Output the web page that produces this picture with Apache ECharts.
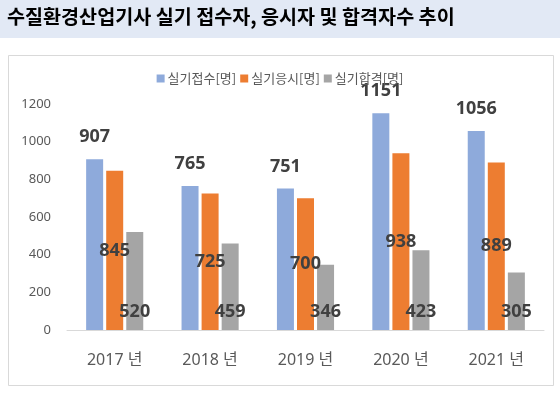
<!DOCTYPE html>
<html><head><meta charset="utf-8">
<script src="https://cdn.jsdelivr.net/npm/echarts@6/dist/echarts.min.js"></script>
<style>html,body{margin:0;padding:0;background:#fff}#c{width:560px;height:398px}</style>
</head><body><div id="c"></div>
<script>
const categories = ['2017 년', '2018 년', '2019 년', '2020 년', '2021 년'];
const applied = [907, 765, 751, 1151, 1056];
const tested = [845, 725, 700, 938, 889];
const passed = [520, 459, 346, 423, 305];
const seriesNames = ['실기접수[명]', '실기응시[명]', '실기합격[명]'];
const yTicks = [0, 200, 400, 600, 800, 1000, 1200];

const FONT = "'Noto Sans', 'Noto Sans CJK KR', sans-serif";
const chart = echarts.init(document.getElementById('c'), null, {renderer: 'canvas'});
const labelBase = {show: true, color: '#404040', fontWeight: 'bold', fontSize: 18, fontFamily: FONT};
chart.setOption({
  animation: false,
  textStyle: {fontFamily: FONT},
  graphic: [
    {type: 'rect', left: 0, top: 0, shape: {width: 560, height: 38}, style: {fill: '#e2e9f5'}, z: -10},
    {type: 'rect', left: 8, top: 55, shape: {width: 545, height: 330}, style: {fill: '#fff', stroke: '#d9d9d9', lineWidth: 1}, z: -10}
  ],
  title: {
    text: '수질환경산업기사 실기 접수자, 응시자 및 합격자수 추이',
    left: 7, top: 7, padding: 0,
    textStyle: {fontSize: 19.6, fontWeight: 'bold', color: '#000', fontFamily: "'Noto Sans CJK KR', sans-serif"}
  },
  legend: {
    data: seriesNames, left: 'center', top: 67,
    itemWidth: 8, itemHeight: 8, itemGap: 4, icon: 'rect',
    textStyle: {color: '#595959', fontSize: 13, fontFamily: "'Noto Sans CJK KR', sans-serif", padding: [0, 0, 0, -2]}
  },
  grid: {left: 67, right: 16, top: 104, bottom: 68},
  xAxis: {
    type: 'category', data: categories,
    axisLine: {lineStyle: {color: '#d9d9d9'}}, axisTick: {show: false},
    axisLabel: {color: '#595959', fontSize: 16, margin: 22, fontFamily: FONT}
  },
  yAxis: {
    type: 'value', min: 0, max: 1200, interval: 200,
    axisLine: {show: false}, axisTick: {show: false}, splitLine: {show: false},
    axisLabel: {color: '#595959', fontSize: 13, margin: 16, fontFamily: FONT,
      formatter: v => yTicks.includes(v) ? String(v) : ''}
  },
  series: [
    {name: seriesNames[0], type: 'bar', data: applied, barWidth: 17, barGap: '18%',
     itemStyle: {color: '#8eaadb'}, label: Object.assign({}, labelBase, {position: 'top', distance: 13})},
    {name: seriesNames[1], type: 'bar', data: tested, barWidth: 17,
     itemStyle: {color: '#ed7d31'}, label: Object.assign({}, labelBase, {position: 'inside'})},
    {name: seriesNames[2], type: 'bar', data: passed, barWidth: 17,
     itemStyle: {color: '#a5a5a5'}, label: Object.assign({}, labelBase, {position: 'insideBottom', distance: 9})}
  ]
});
</script></body></html>
